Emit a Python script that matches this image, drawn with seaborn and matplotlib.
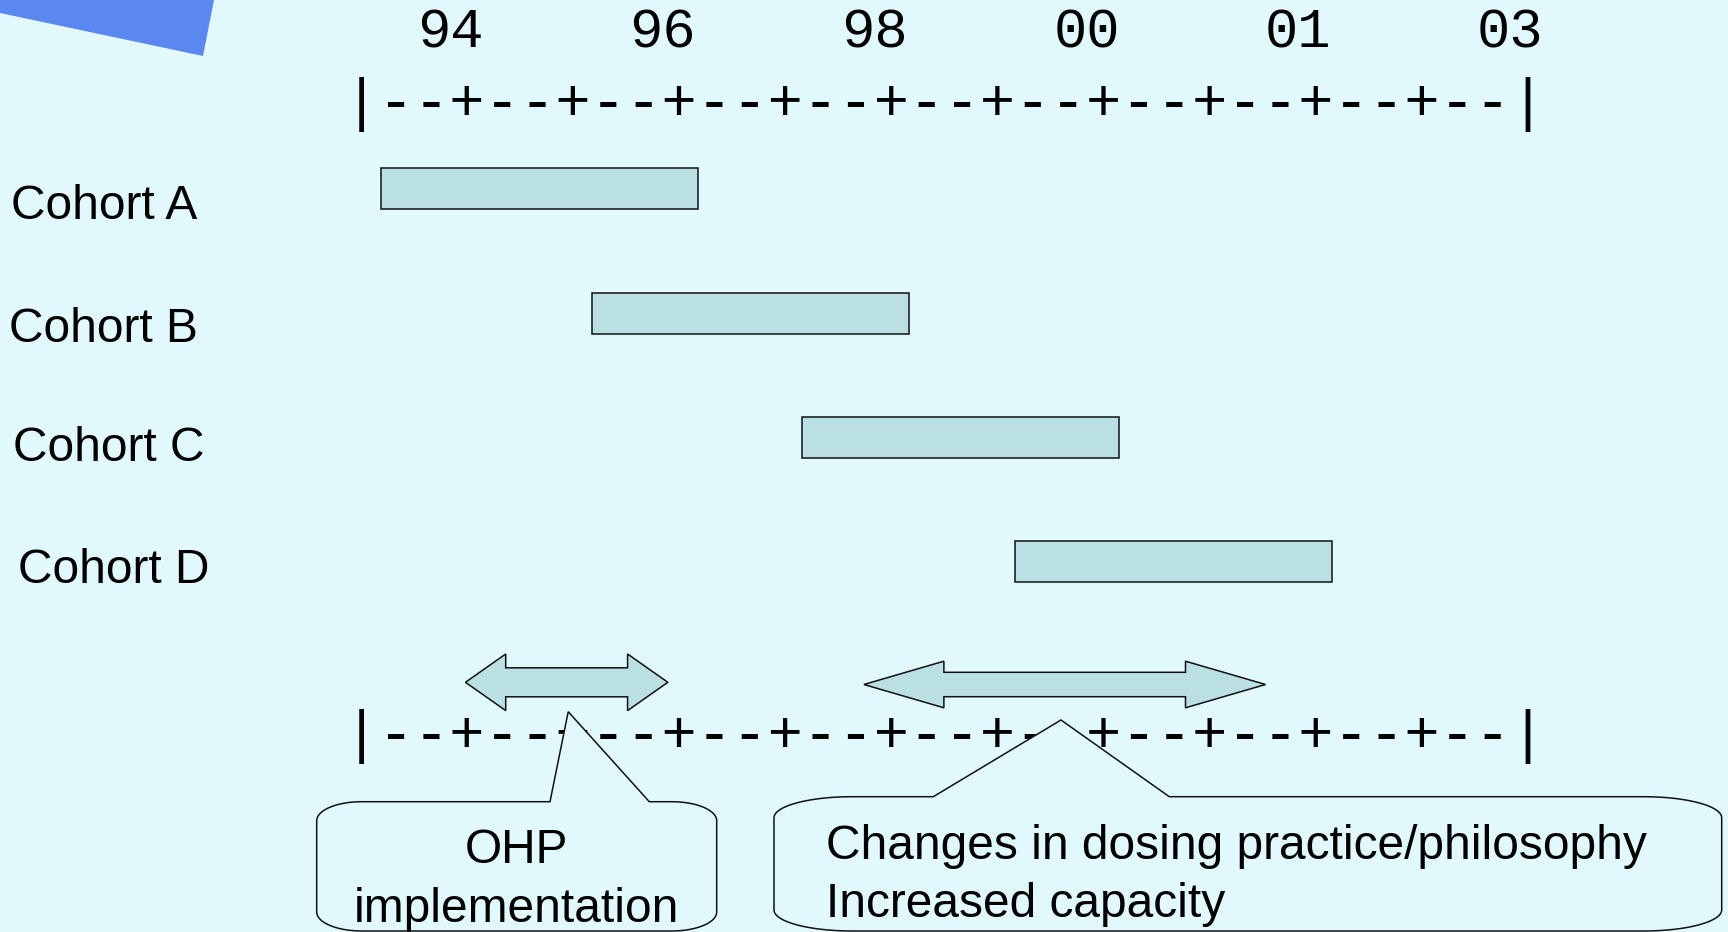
import numpy as np
import pandas as pd
import matplotlib
matplotlib.use("Agg")
import matplotlib.pyplot as plt
from matplotlib.patches import Polygon, PathPatch
from matplotlib.path import Path
import matplotlib.transforms as mtransforms
import seaborn as sns

# ---------------- data ----------------
cohorts = ["Cohort A", "Cohort B", "Cohort C", "Cohort D"]
cohort_start = [-0.66, 1.33, 3.32, 5.33]   # position on the timeline (label "94" = 0, "96" = 2, ...)
cohort_end = [2.33, 4.33, 6.31, 8.32]
tick_pos = [0, 2, 4, 6, 8, 10]
tick_labels = ["94", "96", "98", "00", "01", "03"]
timeline_text = "|--+--+--+--+--+--+--+--+--+--+--|"
event_labels = ["OHP\nimplementation",
                "Changes in dosing practice/philosophy\nIncreased capacity"]
event_start = [0.14, 3.90]
event_end = [2.05, 7.69]
event_pointer = [1.11, 5.76]

# ---------------- style / layout ----------------
BG = "#E1F9FD"
BAR_FILL = "#BAE0E3"
EDGE = "#111111"
BLUE = "#5B87F0"
SANS = "Liberation Sans"
MONO = "Liberation Mono"
label_left_px = [11.0, 9.0, 13.0, 18.5]          # left edge of each cohort label
label_base_px = [219.3, 342.3, 461.0, 583.3]     # baseline of each cohort label

sns.set_theme(style="white")
plt.rcParams["font.family"] = [SANS, "DejaVu Sans"]
plt.rcParams["text.color"] = "black"

W, H = 1728, 932
fig = plt.figure(figsize=(W / 100, H / 100), dpi=100, facecolor=BG)
ax_bar = fig.add_axes([0, 0, 1, 1])
ax_ov = fig.add_axes([0, 0, 1, 1])
ax_ov.set_xlim(0, W)
ax_ov.set_ylim(H, 0)
ax_ov.axis("off")

# ---------------- bars (seaborn) ----------------
df = pd.DataFrame({"cohort": cohorts,
                   "start": cohort_start,
                   "duration": np.subtract(cohort_end, cohort_start)})
sns.barplot(data=df, x="duration", y="cohort", orient="y",
            left=df["start"].to_numpy(), width=0.33, color=BAR_FILL,
            saturation=1, edgecolor=EDGE, linewidth=1.1, errorbar=None,
            ax=ax_bar)

X_LIM = (-4.2522, 12.0544)
Y_LIM = (5.978, -1.520)
ax_bar.set_xlim(*X_LIM)
ax_bar.set_ylim(*Y_LIM)
ax_bar.axis("off")

# x in timeline units, y in figure pixels
xdata_ypix = mtransforms.blended_transform_factory(ax_bar.transData, ax_ov.transData)

# year labels and ascii timelines
for p, lab in zip(tick_pos, tick_labels):
    ax_bar.text(p, 47.7, lab, transform=xdata_ypix, ha="center", va="baseline",
                family=MONO, fontsize=40, color="black")
cell = 1 / 3.0
tl_center = np.mean(tick_pos) - cell
for ybase in (120.0, 752.0):
    ax_bar.text(tl_center, ybase, timeline_text, transform=xdata_ypix,
                ha="center", va="baseline", family=MONO, fontsize=42.4,
                color="black")

# cohort labels
for name, lx, by in zip(cohorts, label_left_px, label_base_px):
    ax_ov.text(lx, by, name, ha="left", va="baseline", fontsize=34.5,
               color="black")

# double-headed block arrows for the event periods
arrow_geom = [  # (center y px, head half px, shaft half px, head length units)
    (682.3, 28.3, 14.5, 0.380),
    (684.5, 23.3, 12.2, 0.755),
]
for (xs, xe), (cy, hh, sh, hl) in zip(zip(event_start, event_end), arrow_geom):
    pts = [(xs, cy), (xs + hl, cy - hh), (xs + hl, cy - sh), (xe - hl, cy - sh),
           (xe - hl, cy - hh), (xe, cy), (xe - hl, cy + hh), (xe - hl, cy + sh),
           (xs + hl, cy + sh), (xs + hl, cy + hh)]
    ax_bar.add_patch(Polygon(pts, closed=True, facecolor=BAR_FILL, edgecolor=EDGE,
                             linewidth=1.1, transform=xdata_ypix, zorder=3))
ax_bar.set_xlim(*X_LIM)
ax_bar.set_ylim(*Y_LIM)


# callouts
def callout_path(left, right, top, bottom, rx, ry, bl, tip, br):
    verts = [(bl, top), tip, (br, top), (right - rx, top)]

    def arc(cx, cy, t0, t1):
        t = np.linspace(t0, t1, 24)
        return list(zip(cx + rx * np.cos(t), cy + ry * np.sin(t)))

    verts += arc(right - rx, top + ry, -np.pi / 2, 0)
    verts += arc(right - rx, bottom - ry, 0, np.pi / 2)
    verts += arc(left + rx, bottom - ry, np.pi / 2, np.pi)
    verts += arc(left + rx, top + ry, np.pi, 1.5 * np.pi)
    verts.append((bl, top))
    codes = [Path.MOVETO] + [Path.LINETO] * (len(verts) - 2) + [Path.CLOSEPOLY]
    return Path(verts, codes)


fig.canvas.draw()
callout_geom = [  # left, right, top, bottom, rx, ry, base-left, tip y, base-right
    (316.7, 716.7, 801.7, 931.0, 45, 19, 550.0, 711.7, 649.3),
    (774.0, 1721.7, 796.7, 931.0, 78, 21, 933.3, 720.0, 1169.3),
]
for xp, (l, r, t, b, rx, ry, bl, ty, br) in zip(event_pointer, callout_geom):
    tip_x = ax_bar.transData.transform((xp, 0))[0]
    path = callout_path(l, r, t, b, rx, ry, bl, (tip_x, ty), br)
    ax_ov.add_patch(PathPatch(path, facecolor=BG, edgecolor=EDGE, linewidth=1.1,
                              zorder=2))

# callout texts
l0a, l0b = event_labels[0].split("\n")
ax_ov.text(516.7, 863.3, l0a, ha="center", va="baseline", fontsize=34.5, zorder=5)
ax_ov.text(516.7, 921.7, l0b, ha="center", va="baseline", fontsize=34.5, zorder=5)
l1, l2 = event_labels[1].split("\n")
ax_ov.text(826.5, 859.3, l1, ha="left", va="baseline", fontsize=34.5, zorder=5)
ax_ov.text(826.5, 916.7, l2, ha="left", va="baseline", fontsize=34.5, zorder=5)

# decorative blue corner shape
ax_ov.add_patch(Polygon([(0, 0), (214, 0), (203, 56), (0, 13)], closed=True,
                        facecolor=BLUE, edgecolor="none", zorder=1))

fig.savefig("out.png", dpi=100, facecolor=BG)
